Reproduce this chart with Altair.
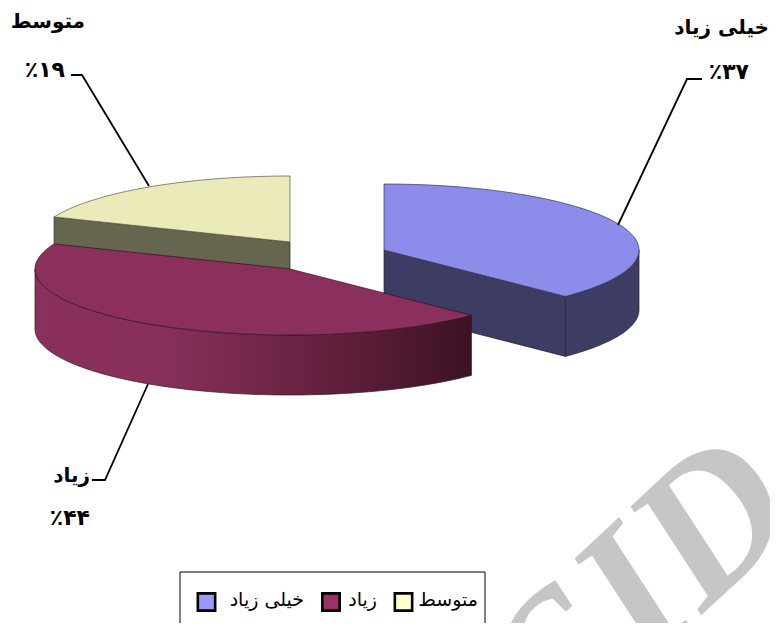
import math
import numpy as np
import pandas as pd
import altair as alt

# Slice shares (angles of the wedges) and printed labels
categories = ["خیلی زیاد", "زیاد", "متوسط"]
shares = [37.4, 43.8, 18.8]
pct_labels = ["٪۳۷", "٪۴۴", "٪۱۹"]

W, H = 762, 615
RX, RY, DEPTH = 255, 66, 60
OFF = 8


def px(x):
    return x - OFF


def py(y):
    return y - OFF


def edges():
    a = 0
    out = []
    for s in shares:
        out.append((a, a + s * 3.6))
        a += s * 3.6
    return out


def ell(c, t):
    r = math.radians(t)
    return (c[0] + RX * math.sin(r), c[1] - RY * math.cos(r))


def poly(points):
    return pd.DataFrame(
        {"x": [px(p[0]) for p in points], "y": [py(p[1]) for p in points], "o": range(len(points))}
    )


xs = alt.Scale(domain=[0, W], range=[0, W], nice=False, zero=False)
ys = alt.Scale(domain=[0, H], range=[0, H], nice=False, zero=False)
X = alt.X("x:Q", scale=xs, axis=None)
Y = alt.Y("y:Q", scale=ys, axis=None)


def shape(points, fill, stroke="#222222", sw=0.7):
    return (
        alt.Chart(poly(points))
        .mark_line(filled=True, fill=fill, stroke=stroke, strokeWidth=sw, interpolate="linear-closed", clip=True)
        .encode(x=X, y=Y, order="o:Q")
    )


def seg(c, a, b, depth=0):
    return [(ell(c, t)[0], ell(c, t)[1] + depth) for t in np.linspace(a, b, 90)]


(a0, a1), (b0, b1), (c0, c1) = edges()
BLUE_C = (384, 250)
MAR_C = (290, 269)
OLV_C = (290, 242)

layers = []

# watermark, behind everything
d_wm = pd.DataFrame([{"x": px(646), "y": py(586), "t": "SID"}])
layers.append(
    alt.Chart(d_wm)
    .mark_text(
        baseline="middle", align="center", font="Liberation Serif", fontWeight="bold", fontStyle="italic",
        fontSize=195, color="#C6C6C6", angle=317, clip=True,
    )
    .encode(x=X, y=Y, text="t:N")
)

# olive slice
o_wall = [OLV_C, ell(OLV_C, c0), (ell(OLV_C, c0)[0], ell(OLV_C, c0)[1] + DEPTH), (OLV_C[0], OLV_C[1] + DEPTH)]
layers.append(shape(o_wall, "#666650"))
layers.append(shape([OLV_C] + seg(OLV_C, c0, c1), "#EBEBB9", stroke="#555544"))

# blue slice
b_wall = [BLUE_C, ell(BLUE_C, a1), (ell(BLUE_C, a1)[0], ell(BLUE_C, a1)[1] + DEPTH), (BLUE_C[0], BLUE_C[1] + DEPTH)]
b_outer = seg(BLUE_C, 90, a1) + seg(BLUE_C, a1, 90, DEPTH)
layers.append(shape(b_wall, "#3D3D63"))
layers.append(shape(b_outer, "#3D3D63"))
layers.append(shape([BLUE_C] + seg(BLUE_C, a0, a1), "#8C8CEB", stroke="#333355"))

# maroon slice
grad = alt.Gradient(
    gradient="linear",
    x1=0, y1=0, x2=1, y2=0,
    stops=[
        alt.GradientStop(offset=0, color="#8B2F5C"),
        alt.GradientStop(offset=0.3, color="#873059"),
        alt.GradientStop(offset=0.65, color="#66213F"),
        alt.GradientStop(offset=1, color="#3C1224"),
    ],
)
m_outer = seg(MAR_C, b0, 270) + seg(MAR_C, 270, b0, DEPTH)
layers.append(shape(m_outer, grad))
layers.append(shape([MAR_C] + seg(MAR_C, b0, b1), "#8B2F5C", stroke="#33101F"))

# leader lines
leaders = [
    [(618, 225), (687, 79), (702, 79)],
    [(149, 186), (82, 75), (71, 75)],
    [(148, 384), (105, 480), (92, 480)],
]
for pts in leaders:
    layers.append(
        alt.Chart(poly(pts)).mark_line(color="#000000", strokeWidth=1.8).encode(x=X, y=Y, order="o:Q")
    )


def text(rows, **kw):
    d = pd.DataFrame([{"x": px(r[0]), "y": py(r[1]), "t": r[2]} for r in rows])
    return alt.Chart(d).mark_text(baseline="middle", **kw).encode(x=X, y=Y, text="t:N")


layers.append(
    text(
        [(769, 28, categories[0]), (85, 22, categories[2]), (90, 476, categories[1])],
        font="DejaVu Sans", fontWeight="bold", fontSize=20, align="right", color="#000000",
    )
)
layers.append(
    text(
        [(749, 72, pct_labels[0]), (65, 70, pct_labels[2]), (90, 518, pct_labels[1])],
        font="DejaVu Sans", fontWeight="bold", fontSize=22, align="right", color="#000000",
    )
)

# legend box
layers.append(
    alt.Chart(poly([(180, 631), (180, 572), (485, 572), (485, 631)]))
    .mark_line(color="#000000", strokeWidth=1, clip=True)
    .encode(x=X, y=Y, order="o:Q")
)
sw = pd.DataFrame(
    {"x": [px(206.5), px(331), px(403.5)], "y": [py(602)] * 3, "c": ["#9999FF", "#993366", "#FFFFCC"]}
)
layers.append(
    alt.Chart(sw)
    .mark_square(size=300, opacity=1, stroke="#000000", strokeWidth=2.6, filled=True)
    .encode(x=X, y=Y, fill=alt.Color("c:N", scale=None, legend=None))
)
layers.append(
    text(
        [(478, 600, categories[2]), (377, 600, categories[1]), (304, 600, categories[0])],
        font="DejaVu Sans", fontSize=19, align="right", color="#000000",
    )
)

chart = (
    alt.layer(*layers)
    .properties(width=W, height=H, padding=0, autosize=alt.AutoSizeParams(type="none"), background="#FFFFFF")
    .configure_view(stroke=None)
)

chart.save("out.html", embed_options={"renderer": "svg", "actions": False})
